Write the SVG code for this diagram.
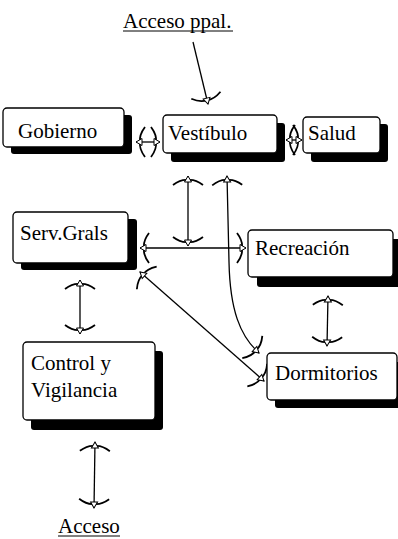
<svg xmlns="http://www.w3.org/2000/svg" width="398" height="539" viewBox="0 0 398 539">
  <style>
    .box { fill: #fff; stroke: #000; stroke-width: 1.3; }
    .shadow { fill: #000; }
    text { font-family: "Liberation Serif", serif; font-size: 21px; fill: #000; }
    .conn { fill: none; stroke: #000; stroke-width: 1.3; marker-start: url(#tip); marker-end: url(#tip); }
    .one { marker-start: none; }
  </style>
  <defs>
    <!-- hand-drawn style arrow tip: small open triangle with a curved crossbar -->
    <marker id="tip" markerUnits="userSpaceOnUse" markerWidth="40" markerHeight="40" viewBox="-20 -20 40 40" refX="0" refY="0" orient="auto-start-reverse" overflow="visible">
      <path d="M-9,-15 Q-3,-7 -4,0 Q-3,7 -9,15" fill="none" stroke="#000" stroke-width="1.8"/>
      <path d="M0,0 L-6,-3.5 L-6,3.5 Z" fill="#fff" stroke="#000" stroke-width="1"/>
    </marker>
  </defs>

  <!-- connectors -->
  <g id="connectors">
    <path class="conn one" d="M193,42 L208,104"/>
    <path class="conn" d="M136,142 L160,142"/>
    <path class="conn" d="M286,140 L302,140"/>
    <path class="conn" d="M188,176 L188,246"/>
    <path class="conn" d="M140,248 L246,248"/>
    <path class="conn" d="M227,176 L229,262 C230,310 240,336 259,353"/>
    <path class="conn" d="M140,272 L264,381"/>
    <path class="conn" d="M80,280 L80,334"/>
    <path class="conn" d="M328,296 L327,346"/>
    <path class="conn" d="M95,442 L94,508"/>
  </g>

  <!-- free labels -->
  <g id="acceso-ppal">
    <text x="123" y="28" font-family="Liberation Serif, serif">Acceso ppal.</text>
    <line x1="123" y1="31" x2="233" y2="31" stroke="#000" stroke-width="1"/>
  </g>
  <g id="acceso">
    <text x="58" y="533" font-family="Liberation Serif, serif">Acceso</text>
    <line x1="58" y1="536" x2="120" y2="536" stroke="#000" stroke-width="1"/>
  </g>

  <!-- nodes -->
  <g id="gobierno">
    <rect class="shadow" x="11" y="115" width="121" height="39" rx="3"/>
    <rect class="box" x="3" y="108" width="121" height="39" rx="4"/>
    <text x="18" y="138" font-family="Liberation Serif, serif">Gobierno</text>
  </g>
  <g id="vestibulo">
    <rect class="shadow" x="171" y="123" width="114" height="39" rx="3"/>
    <rect class="box" x="163" y="115" width="114" height="38" rx="4"/>
    <text x="168" y="140" font-family="Liberation Serif, serif">Vestíbulo</text>
  </g>
  <g id="salud">
    <rect class="shadow" x="311" y="124" width="77" height="38" rx="3"/>
    <rect class="box" x="303" y="117" width="77" height="36" rx="4"/>
    <text x="308" y="140" font-family="Liberation Serif, serif">Salud</text>
  </g>
  <g id="serv-grals">
    <rect class="shadow" x="21" y="219" width="116" height="51" rx="3"/>
    <rect class="box" x="13" y="212" width="115" height="51" rx="4"/>
    <text x="20" y="240" font-family="Liberation Serif, serif">Serv.Grals</text>
  </g>
  <g id="recreacion">
    <rect class="shadow" x="257" y="239" width="145" height="48" rx="3"/>
    <rect class="box" x="248" y="230" width="145" height="47" rx="4"/>
    <text x="255" y="255" font-family="Liberation Serif, serif">Recreación</text>
  </g>
  <g id="control-vigilancia">
    <rect class="shadow" x="31" y="351" width="132" height="79" rx="3"/>
    <rect class="box" x="23" y="342" width="132" height="78" rx="4"/>
    <text x="31" y="370" font-family="Liberation Serif, serif">Control y</text>
    <text x="31" y="397" font-family="Liberation Serif, serif">Vigilancia</text>
  </g>
  <g id="dormitorios">
    <rect class="shadow" x="275" y="362" width="130" height="46" rx="3"/>
    <rect class="box" x="267" y="353" width="130" height="47" rx="4"/>
    <text x="275" y="380" font-family="Liberation Serif, serif">Dormitorios</text>
  </g>
</svg>
